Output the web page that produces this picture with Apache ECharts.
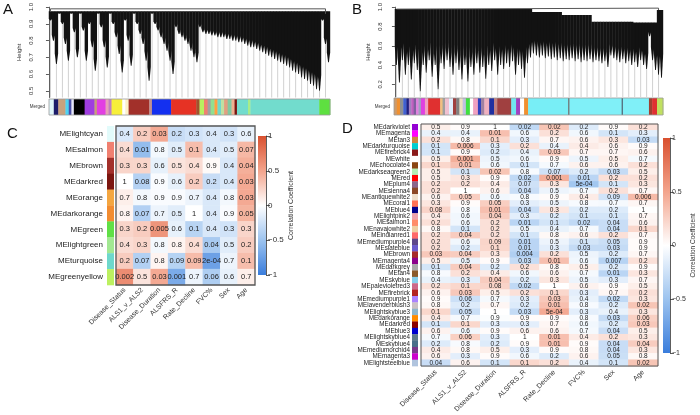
<!DOCTYPE html>
<html><head><meta charset="utf-8">
<script src="https://cdn.jsdelivr.net/npm/echarts@6/dist/echarts.min.js"></script>
<style>html,body{margin:0;padding:0;background:#fff}#c{width:700px;height:415px}</style>
</head><body><div id="c"></div>
<script>
// ---------------- DATA ----------------
const traitLabels = ['Disease_Status','ALS1_v_ALS2','Disease_Duration','ALSFRS_R','Rate_Decline','FVC%','Sex','Age'];
const heightTicksA = [0.5,0.6,0.7,0.8,0.9,1.0];
const heightTicksB = [0.2,0.4,0.6,0.8,1.0];
const cbTicks = [-1,-0.5,0,0.5,1];

// Panel A dendrogram: lowest merge height of each leaf group, and top height
const dendA_bottom = [0.92,0.80,0.66,0.96,0.90,0.78,0.68,0.96,0.85,0.70,0.96,0.86,0.68,0.90,0.76,0.62,0.96,0.88,0.76,0.64,0.96,0.90,0.82,0.72,0.61,0.92,0.80,0.65,0.96,0.90,0.84,0.78,0.68,0.56,0.96,0.90,0.86,0.82,0.78,0.74,0.68,0.60,0.88,0.84,0.82,0.80,0.78,0.74,0.70,0.67,
  0.88,0.85,0.84,0.84,0.83,0.83,0.82,0.82,0.82,0.81,0.81,0.80,0.80,0.79,0.79,0.78,0.77,0.76,0.76,0.75,0.74,0.73,0.72,0.71,0.70,0.69,0.68,0.67,0.66,0.65,0.64,0.62,0.61,0.60,0.58,0.57,0.56,0.54,0.53,0.51,0.50,
  0.92,0.78,0.67];
const dendA_top = dendA_bottom.map(() => 0.975);
const mergeA = [[0.5,0.975],[0.5,0.99],[92.5,0.99],[92.5,0.96]];

// Panel B dendrogram
const dendB_bottom = [0.40,0.22,0.45,0.30,0.40,0.25,0.42,0.35,0.13,0.40,0.32,0.45,0.28,0.40,0.15,0.42,0.36,0.45,0.38,0.30,0.42,0.35,0.25,0.40,0.23,0.38,0.30,0.42,0.32,0.38,0.26,0.40,0.34,0.45,0.30,0.40,0.36,0.42,0.38,0.44,0.30,0.40,0.36,0.27,0.42,0.48,
  0.52,0.50,0.48,0.50,0.47,0.49,0.46,0.48,0.45,0.47,0.44,0.46,0.45,0.47,0.44,0.46,0.43,0.45,0.44,0.46,0.43,0.45,0.44,0.42,0.44,0.38,0.50,0.47,0.45,0.43,0.46,0.42,0.44,0.40,0.43,0.38,0.45,0.40,0.36,0.70,0.45,0.35,0.30,0.27];
const dendB_top = [0.98,0.98,0.98,0.98,0.98,0.98,0.98,0.98,0.98,0.98,0.98,0.98,0.98,0.98,0.98,0.98,0.98,0.98,0.98,0.98,0.98,0.98,0.98,0.98,0.98,0.98,0.98,0.98,0.98,0.98,0.98,0.98,0.98,0.98,0.98,0.98,0.98,0.98,0.98,0.98,0.98,0.98,0.98,0.98,0.98,0.98,
  0.95,0.95,0.95,0.95,0.95,0.95,0.95,0.95,0.95,0.95,0.92,0.92,0.92,0.92,0.92,0.92,0.92,0.92,0.92,0.92,0.85,0.85,0.85,0.85,0.85,0.85,0.85,0.85,0.85,0.85,0.85,0.85,0.85,0.85,0.84,0.84,0.84,0.84,0.84,0.84,0.84,0.84,0.97,0.97];
const mergeB = [[0.5,0.98],[0.5,0.99],[88.5,0.99],[88.5,0.97]];

// Merged module colour bars: colour and width (leaf groups)
const barA_colors = ['#e0f6fa','#1c1c6a','#c9a27e','#4fd3f2','#4b4fa8','#e8e8f8','#000000','#a03de0','#c8a078','#e23fe2','#e8a0b8','#c080c0','#f7ef3a','#ffffff','#fdf1c8','#a2302a','#c09090','#1430f0','#e63224','#a0522d','#b8f060','#f08070','#a0a0a0','#90e090','#ffa040','#70d8c8','#c0e0a0','#e0a080','#80c8a0','#f0b090','#7a1410','#72dccd','#a8ec88','#72dccd','#5ee040'];
const barA_widths = [1.6,1.5,2.4,1.1,0.9,0.8,3.6,3.3,0.8,2.9,1.0,1.0,3.6,1.0,1.1,6.9,0.9,6.4,8.4,1.1,1.5,1.2,1.0,1.3,1.0,1.2,1.0,1.2,1.3,1.0,0.8,3.7,0.8,23,3.6];
const barB_colors = ['#cd9b6a','#f09030','#909090','#4060d0','#202080','#a080c0','#c060c0','#8060a0','#e080e0','#a0a0c0','#e040e0','#f0a0c0','#e03030','#f0c080','#a0a0a0','#f0c0d0','#e0f0ff','#a04040','#808080','#f0e0c0','#c0c0e0','#40e040','#ffffff','#f0a0c0','#3040c0','#a080a0','#f0b0c0','#2030a0','#c08080','#a04040','#70e8f0','#a040c0','#ffffff','#f09030','#78eef6','#606060','#80f0f8','#506070','#80f0f8','#a04030','#e03030','#c0e060'];
const barB_widths = [7,8,8,8,6,6,6,6,6,6,10,8,30,6,6,10,10,8,8,8,8,10,8,12,8,8,12,12,8,35,12,10,10,10,100,3,130,3,65,8,12,15];

// Panel C
const modulesC = ['MElightcyan','MEsalmon','MEbrown','MEdarkred','MEorange','MEdarkorange','MEgreen','MElightgreen','MEturquoise','MEgreenyellow'];
const moduleColorsC = ['#e2fbfb','#f08070','#a3302a','#7c1610','#f4a640','#f28c30','#60e046','#a2e892','#6ed8cc','#bcf060'];
const pC = [
 ['0.4','0.2','0.03','0.2','0.3','0.4','0.3','0.6'],
 ['0.4','0.01','0.8','0.5','0.1','0.4','0.5','0.07'],
 ['0.3','0.3','0.6','0.5','0.4','0.9','0.4','0.04'],
 ['1','0.08','0.9','0.6','0.2','0.2','0.4','0.03'],
 ['0.7','0.8','0.9','0.9','0.7','0.4','0.8','0.03'],
 ['0.8','0.07','0.7','0.5','1','0.4','0.9','0.05'],
 ['0.3','0.2','0.005','0.6','0.1','0.4','0.3','0.3'],
 ['0.4','0.3','0.8','0.8','0.4','0.04','0.5','0.2'],
 ['0.2','0.07','0.8','0.09','0.09','2e-04','0.7','0.1'],
 ['0.002','0.5','0.03','0.001','0.7','0.06','0.6','0.7']];
const rC = [
 [-0.19,0.28,0.47,-0.28,-0.23,-0.19,-0.23,-0.12],
 [0.19,-0.54,-0.06,-0.15,0.36,-0.19,-0.15,0.39],
 [0.23,0.23,-0.12,0.15,0.19,0.03,-0.19,0.44],
 [0,-0.38,-0.03,-0.12,0.28,-0.28,-0.19,0.47],
 [0.09,-0.06,-0.03,-0.03,-0.09,-0.19,-0.06,0.47],
 [0.06,-0.39,-0.09,-0.15,0,-0.19,-0.03,0.42],
 [0.23,0.28,0.59,-0.12,-0.36,-0.19,-0.23,0.23],
 [0.19,0.23,-0.06,0.06,0.19,-0.44,-0.15,0.28],
 [0.28,-0.39,0.06,-0.37,0.37,-0.74,-0.09,0.36],
 [0.64,0.15,0.47,-0.67,-0.09,-0.41,-0.12,0.09]];

// Panel D
const modulesD = ['MEdarkviolet','MEmagenta','MEtan3','MEdarkturquoise','MEfirebrick4','MEwhite','MEchocolate4','MEdarkseagreen2','MEred','MEplum4','MEsienna4','MEantiquewhite2','MEcoral1','MEblue4','MElightpink2','MEsalmon1','MEnavajowhite2','MEindianred1','MEmediumpurple4','MEslateblue','MEbrown','MEmagenta4','MEdarkgrey','MEtan4','MEskyblue','MEpalevioletred3','MEfirebrick','MEmediumpurple1','MElavenderblush3','MElightskyblue3','MEdarkorange','MEdarkred','MEblue3','MElightskyblue4','MEskyblue4','MEmediumorchid4','MEmagenta3','MElightsteelblue'];
const moduleColorsD = ['#9400d3','#ff00ff','#cd853f','#00ced1','#8b1a1a','#ffffff','#8b4513','#b4eeb4','#ff0000','#8b668b','#8b4726','#eedfcc','#ff7256','#00008b','#eea2ad','#ff8c69','#eecfa1','#ff6a6a','#5d478b','#6a5acd','#a52a2a','#8b008b','#a9a9a9','#8b5a2b','#87ceeb','#cd6889','#b22222','#ab82ff','#cdc1c5','#8db6cd','#ff8c00','#8b0000','#0000cd','#607b8b','#4a708b','#7a378b','#cd00cd','#b0c4de'];
const pD = [
 ['0.5','0.9','1','0.02','0.02','0.2','0.9','0.2'],
 ['0.4','0.4','0.01','0.6','0.2','0.6','0.1','0.3'],
 ['0.2','0.8','0.1','0.3','0.7','0.6','0.3','0.03'],
 ['0.1','0.006','0.3','0.2','0.4','0.4','0.6','0.9'],
 ['0.1','0.9','0.2','0.4','0.03','0.7','0.7','0.6'],
 ['0.5','0.001','0.5','0.6','0.9','0.5','0.5','0.7'],
 ['0.1','0.01','0.6','0.1','0.7','0.6','0.6','0.2'],
 ['0.5','0.1','0.02','0.8','0.07','0.2','0.03','0.5'],
 ['0.5','0.3','0.9','0.02','0.001','0.01','0.2','0.2'],
 ['0.2','0.2','0.4','0.07','0.3','5e-04','0.1','0.3'],
 ['0.2','1','0.6','0.04','0.5','0.7','0.2','0.7'],
 ['0.6','0.05','0.6','0.8','0.9','0.4','0.09','0.006'],
 ['0.3','0.9','0.05','0.3','0.5','0.8','0.7','0.7'],
 ['0.08','0.8','0.01','0.04','0.3','0.2','0.2','1'],
 ['0.4','0.6','0.04','0.3','0.2','0.1','0.1','0.7'],
 ['0.2','0.6','0.2','0.01','0.1','0.02','0.04','0.6'],
 ['0.8','0.1','0.2','0.5','0.4','0.7','0.04','0.1'],
 ['0.2','0.04','0.2','0.1','0.8','0.6','0.2','0.7'],
 ['0.2','0.6','0.09','0.01','0.5','0.1','0.05','0.9'],
 ['0.2','0.2','0.1','0.01','0.3','0.03','0.03','0.9'],
 ['0.03','0.04','0.3','0.004','0.2','0.5','0.2','0.7'],
 ['0.5','0.5','0.9','0.03','0.01','0.6','0.007','0.2'],
 ['0.1','0.04','0.2','0.2','0.8','0.5','0.2','0.9'],
 ['0.8','0.2','0.4','0.6','0.6','0.7','0.01','0.3'],
 ['0.4','0.3','0.04','0.2','0.3','0.5','0.3','0.7'],
 ['0.2','0.1','0.08','0.02','1','0.6','0.9','0.5'],
 ['0.6','0.03','0.5','0.2','0.1','0.3','0.7','0.2'],
 ['0.9','0.06','0.7','0.3','0.03','0.4','0.02','0.3'],
 ['0.8','0.2','0.7','0.2','0.01','0.8','0.2','0.02'],
 ['0.1','0.05','1','0.03','5e-04','0.3','0.4','0.3'],
 ['0.4','0.7','0.9','0.9','0.9','0.8','0.03','0.06'],
 ['0.1','0.1','0.3','0.3','0.7','0.6','0.2','0.03'],
 ['0.6','0.6','0.9','0.6','0.6','0.7','0.04','0.5'],
 ['0.7','0.06','0.3','1','0.01','0.4','0.2','0.3'],
 ['0.2','0.8','0.2','0.9','0.01','0.9','0.04','0.04'],
 ['0.4','0.8','0.5','0.3','0.9','0.8','0.04','0.3'],
 ['0.6','0.3','0.9','0.6','0.2','0.6','0.05','0.8'],
 ['0.04','0.6','0.1','0.1','0.2','0.4','0.1','0.02']];
const rD = [
 [0.09,0.02,0,-0.32,0.32,-0.17,0.02,0.17],
 [-0.11,-0.11,0.35,-0.07,0.17,-0.07,-0.22,-0.14],
 [0.17,0.04,0.22,-0.14,0.05,0.07,0.14,-0.3],
 [-0.22,0.38,-0.14,0.17,-0.11,0.11,0.07,0.02],
 [-0.22,0.02,-0.17,-0.11,0.3,0.05,0.05,0.07],
 [0.09,0.44,-0.09,-0.07,0.02,-0.09,0.09,-0.05],
 [0.22,0.35,-0.07,-0.22,-0.05,0.07,0.07,0.17],
 [0.09,-0.22,0.32,-0.04,-0.25,-0.17,-0.3,0.09],
 [0.09,0.14,0.02,-0.32,0.44,-0.35,0.17,0.17],
 [0.17,0.17,0.11,-0.25,0.14,-0.47,-0.22,0.14],
 [0.17,0,0.07,-0.28,-0.09,-0.05,0.17,0.05],
 [0.07,0.27,-0.07,-0.04,0.02,0.11,-0.23,0.38],
 [0.14,0.02,0.27,-0.14,-0.09,-0.04,-0.05,0.05],
 [0.24,-0.04,0.35,-0.28,0.14,-0.17,-0.17,0],
 [0.11,-0.07,0.28,-0.14,-0.17,-0.22,-0.22,0.05],
 [0.17,-0.07,0.17,-0.35,-0.22,-0.32,-0.28,0.07],
 [0.04,-0.22,0.17,-0.09,-0.11,-0.05,-0.28,0.22],
 [0.17,0.28,0.17,-0.22,0.04,0.07,0.17,0.05],
 [0.17,-0.07,0.23,-0.35,-0.09,-0.22,-0.27,0.02],
 [0.17,-0.17,0.22,-0.35,-0.14,-0.3,-0.3,0.02],
 [0.3,0.28,0.14,-0.4,0.17,-0.09,-0.17,0.05],
 [0.09,-0.09,0.02,-0.3,0.35,-0.07,-0.37,0.17],
 [-0.22,0.28,-0.17,0.17,0.04,0.09,-0.17,0.02],
 [-0.04,0.17,0.11,-0.07,0.07,-0.05,-0.35,0.14],
 [-0.11,-0.14,0.28,-0.17,0.14,-0.09,-0.14,0.05],
 [0.17,0.22,0.24,-0.32,0,0.07,0.02,0.09],
 [0.07,0.3,0.09,0.17,0.22,-0.14,0.05,0.17],
 [0.02,-0.26,-0.05,-0.14,0.3,-0.11,-0.32,0.14],
 [0.04,-0.17,0.05,-0.17,0.35,-0.04,-0.17,0.32],
 [0.22,-0.27,0,-0.3,0.47,-0.14,-0.11,0.14],
 [0.11,-0.05,-0.02,0.02,0.02,-0.04,-0.3,0.26],
 [-0.22,0.22,-0.14,-0.14,0.05,-0.07,-0.17,0.3],
 [0.07,-0.07,0.02,0.07,0.07,-0.05,-0.28,0.09],
 [-0.05,0.26,-0.14,0,0.35,0.11,0.17,0.14],
 [-0.17,-0.04,-0.17,0.02,0.35,0.02,-0.28,0.28],
 [0.11,0.04,0.09,-0.14,0.02,0.04,-0.28,0.14],
 [0.07,-0.14,0.02,-0.07,-0.17,0.07,-0.27,0.04],
 [-0.28,0.07,-0.22,0.22,0.17,-0.11,-0.22,0.32]];

// ---------------- CHART ----------------
const FONT = '"Liberation Sans", Arial, Helvetica, sans-serif';
const rampColors = ['#3a7ddc','#9cc3ef','#ffffff','#f3a48c','#d9502f'];
const chart = echarts.init(document.getElementById('c'));

const grids = [], xAxes = [], yAxes = [], series = [], visualMaps = [];
function addGrid(g){ grids.push(g); return grids.length - 1; }

function dendro(gridRect, bottom, top, merge, yMin, ticks, xMin, xMax, nameGap, taper) {
  const gi = addGrid(gridRect);
  xAxes.push({gridIndex: gi, type:'value', min:xMin, max:xMax, show:false});
  yAxes.push({gridIndex: gi, type:'value', min:yMin, max:1.0,
    axisLine:{show:true, lineStyle:{color:'#333', width:0.8}},
    axisTick:{show:true, length:3, customValues:ticks, lineStyle:{color:'#333', width:0.8}},
    axisLabel:{customValues:ticks, rotate:90, fontSize:6, margin:3, color:'#333', fontFamily:FONT, formatter:v=>v.toFixed(1)},
    splitLine:{show:false},
    name:'Height', nameLocation:'middle', nameRotate:90, nameGap:nameGap, nameTextStyle:{fontSize:6, color:'#333', fontFamily:FONT}});
  const ai = xAxes.length - 1;
  // hanging leaf lines (drawn below the branches)
  series.push({type:'custom', xAxisIndex:ai, yAxisIndex:ai, silent:true, clip:false, z:1,
    data: bottom.map((b,i)=>[i,b]),
    renderItem(params, api){
      const i = api.value(0), b = api.value(1);
      const p = api.coord([i+0.5, b]), base = api.coord([i+0.5, yMin]);
      if (params.dataIndex % 2 === 1) return null;
      return {type:'line', shape:{x1:p[0], y1:p[1], x2:p[0], y2:base[1]}, style:{stroke:'#bdbdbd', lineWidth:0.7}};
    }});
  // branches: tapered dark shapes from top merge height to lowest merge height
  series.push({type:'custom', xAxisIndex:ai, yAxisIndex:ai, silent:true, clip:false, z:2,
    data: bottom.map((b,i)=>[i,b,top[i]]),
    renderItem(params, api){
      const i = api.value(0), b = api.value(1), t = api.value(2);
      const p0 = api.coord([i, t]), p1 = api.coord([i+1, b]);
      const ym = p0[1] + (p1[1]-p0[1]) * taper;
      const cx = (p0[0]+p1[0])/2;
      return {type:'polygon', shape:{points:[[p0[0]-0.2,p0[1]],[p1[0]+0.2,p0[1]],[p1[0]+0.2,ym],[cx+0.4,p1[1]],[cx-0.4,p1[1]],[p0[0]-0.2,ym]]},
        style:{fill:'#121212'}};
    }});
  series.push({type:'line', xAxisIndex:ai, yAxisIndex:ai, data:merge, symbol:'none', silent:true, z:3,
    lineStyle:{color:'#555', width:1}});
}

function colorBar(gridRect, colors, widths) {
  const gi = addGrid(gridRect);
  let acc = 0; const segs = widths.map((w,i)=>{ const s=[acc, acc+w, i]; acc += w; return s; });
  xAxes.push({gridIndex: gi, type:'value', min:0, max:acc, show:false});
  yAxes.push({gridIndex: gi, type:'category', data:['Merged'], axisLine:{show:false}, axisTick:{show:false},
    axisLabel:{fontSize:4.5, margin:4, color:'#333', fontFamily:FONT}});
  const ai = xAxes.length - 1;
  series.push({type:'custom', xAxisIndex:ai, yAxisIndex:ai, silent:true,
    data: segs,
    renderItem(params, api){
      const a = api.coord([api.value(0), 0]), b = api.coord([api.value(1), 0]);
      const cs = params.coordSys;
      const ch = [{type:'rect', shape:{x:a[0], y:cs.y, width:b[0]-a[0]+0.4, height:cs.height}, style:{fill:colors[api.value(2)]}}];
      if (params.dataIndex === 0) ch.push({type:'rect', z2:10, shape:{x:cs.x, y:cs.y, width:cs.width, height:cs.height}, style:{fill:'none', stroke:'#999', lineWidth:0.8}});
      return {type:'group', children:ch};
    }});
}

function heat(gridRect, rows, rowColors, pvals, rvals, opt) {
  const gi = addGrid(gridRect);
  xAxes.push({gridIndex: gi, type:'category', data:traitLabels, axisLine:{show:false}, axisTick:{show:false},
    axisLabel:{rotate:45, fontSize:opt.xFont, margin:opt.xMargin, color:'#333', fontFamily:FONT, interval:0}, splitLine:{show:false}});
  yAxes.push({gridIndex: gi, type:'category', data:rows, inverse:true, axisLine:{show:false}, axisTick:{show:false},
    axisLabel:{fontSize:opt.yFont, margin:opt.yMargin, color:'#222', fontFamily:FONT, interval:0}, splitLine:{show:false}});
  const ai = xAxes.length - 1;
  const data = [];
  rvals.forEach((row, r) => row.forEach((v, c) => data.push([c, r, v])));
  series.push({type:'heatmap', xAxisIndex:ai, yAxisIndex:ai, data, silent:true,
    label:{show:true, fontSize:opt.cellFont, color:'#222', fontFamily:FONT,
      formatter:p => pvals[p.data[1]][p.data[0]]},
    itemStyle:{borderWidth:0}});
  visualMaps.push({type:'continuous', show:false, min:-1, max:1, seriesIndex:series.length-1, dimension:2,
    inRange:{color:rampColors}});
  series.push({type:'custom', xAxisIndex:ai, yAxisIndex:ai, silent:true, clip:false,
    data: rows.map((_, i) => [0, i]),
    renderItem(params, api){
      const p = api.coord([0, api.value(1)]), s = api.size([1,1]);
      const cs = params.coordSys;
      const ch = [{type:'rect', shape:{x:cs.x - opt.sqGap - opt.sqW, y:p[1]-s[1]/2, width:opt.sqW, height:s[1]+0.3}, style:{fill:rowColors[api.value(1)]}}];
      if (params.dataIndex === 0) ch.push({type:'rect', shape:{x:cs.x, y:cs.y, width:cs.width, height:cs.height}, style:{fill:'none', stroke:'#555', lineWidth:opt.frameW}});
      return {type:'group', children:ch};
    }, z:5});
}

function colorScale(gridRect, fontSize, nameGap, nameFont) {
  const gi = addGrid(gridRect);
  xAxes.push({gridIndex: gi, type:'value', min:0, max:1, show:false});
  yAxes.push({gridIndex: gi, type:'value', min:-1, max:1, position:'right',
    axisLine:{show:true, onZero:false, lineStyle:{color:'#333', width:0.8}},
    axisTick:{show:true, customValues:cbTicks, length:4, lineStyle:{color:'#333', width:0.8}},
    axisLabel:{customValues:cbTicks, fontSize:fontSize, margin:2, color:'#333', fontFamily:FONT, formatter:v=>String(v).replace('-', '\u2212')},
    splitLine:{show:false},
    name:'Correlation Coefficient', nameLocation:'middle', nameRotate:90, nameGap:nameGap,
    nameTextStyle:{fontSize:nameFont, color:'#333', fontFamily:FONT}});
  const ai = xAxes.length - 1;
  series.push({type:'custom', xAxisIndex:ai, yAxisIndex:ai, silent:true, data:[[0]],
    renderItem(params, api){
      const cs = params.coordSys;
      const stops = rampColors.slice().reverse().map((c,i,arr)=>({offset:i/(arr.length-1), color:c}));
      return {type:'rect', shape:{x:cs.x, y:cs.y, width:cs.width, height:cs.height},
        style:{fill:new echarts.graphic.LinearGradient(0,0,0,1,stops)}};
    }});
}

dendro({left:37, top:5, width:293, height:92.5}, dendA_bottom, dendA_top, mergeA, 0.46, heightTicksA, -4, 94, 15, 0.8);
colorBar({left:49, top:99, width:281, height:16}, barA_colors, barA_widths);
dendro({left:386, top:5, width:277, height:92}, dendB_bottom, dendB_top, mergeB, 0.07, heightTicksB, -3, 90, 15, 0.65);
colorBar({left:394, top:98, width:269, height:17}, barB_colors, barB_widths);

heat({left:116, top:126, width:139, height:159}, modulesC, moduleColorsC, pC, rC,
  {xFont:7, xMargin:4, yFont:8, yMargin:13, cellFont:7.5, sqGap:2, sqW:7, frameW:1.3});
colorScale({left:258, top:136, width:8, height:139}, 8, 22, 7);

heat({left:421, top:124, width:237, height:244}, modulesD, moduleColorsD, pD, rD,
  {xFont:7, xMargin:5, yFont:6.3, yMargin:11, cellFont:6.5, sqGap:3, sqW:6, frameW:1});
colorScale({left:663, top:138, width:7, height:215}, 7, 20, 6.5);

chart.setOption({
  animation:false,
  textStyle:{fontFamily:FONT},
  grid:grids, xAxis:xAxes, yAxis:yAxes, series, visualMap:visualMaps,
  graphic:[
    {type:'text', left:3, top:2, style:{text:'A', fontSize:15, fill:'#111', fontFamily:FONT}},
    {type:'text', left:352, top:2, style:{text:'B', fontSize:15, fill:'#111', fontFamily:FONT}},
    {type:'text', left:7, top:126, style:{text:'C', fontSize:15, fill:'#111', fontFamily:FONT}},
    {type:'text', left:342, top:121, style:{text:'D', fontSize:15, fill:'#111', fontFamily:FONT}}
  ]
});
</script>
</body></html>
